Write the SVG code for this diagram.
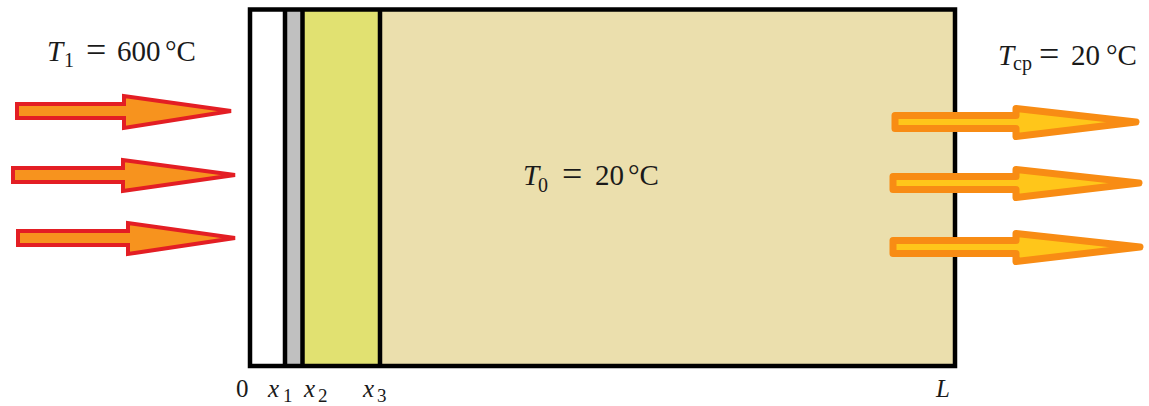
<svg xmlns="http://www.w3.org/2000/svg" width="1149" height="406" viewBox="0 0 1149 406">
<style>
.t{font-family:"Liberation Serif",serif;fill:#1a1a1a}
.it{font-style:italic}
.big{font-size:29px}
.eq{font-size:36px}
.sub{font-size:20px}
.bot{font-size:25px}
.bsub{font-size:19px}
.la{fill:#f7931e;stroke:#e31e24;stroke-width:4;stroke-linejoin:miter;stroke-miterlimit:3}
.ra{fill:#ffc61a;stroke:#f88c14;stroke-width:7;stroke-linejoin:round}
.line{stroke:#000;stroke-width:4.5;fill:none}
</style>
<rect width="1149" height="406" fill="#fff"/>
<g id="wall">
<rect x="250" y="9.5" width="35" height="356.5" fill="#ffffff"/>
<rect x="285" y="9.5" width="17.5" height="356.5" fill="#c0c0c0"/>
<rect x="302.5" y="9.5" width="77.5" height="356.5" fill="#e1e171"/>
<rect x="380" y="9.5" width="575" height="356.5" fill="#ebdfad"/>
<line class="line" x1="285" y1="9.5" x2="285" y2="366"/>
<line class="line" x1="302.5" y1="9.5" x2="302.5" y2="366"/>
<line class="line" x1="380" y1="9.5" x2="380" y2="366"/>
<rect class="line" x="250" y="9.5" width="705" height="356.5"/>
</g>
<g id="arrows-in">
<path class="la" d="M17,104 H124 V96 L231,111 L124,128 V118 H17 Z"/>
<path class="la" d="M13,168 H123 V160 L235,175 L123,191 V182 H13 Z"/>
<path class="la" d="M18,231 H128 V223 L235,238 L128,254 V245 H18 Z"/>
</g>
<g id="arrows-out">
<path class="ra" d="M895,115.5 H1016 V108.5 L1136,122 L1016,136.5 V128.5 H895 Z"/>
<path class="ra" d="M893,176.5 H1016 V169.5 L1139,183 L1016,197.5 V189.5 H893 Z"/>
<path class="ra" d="M893,240.5 H1016 V233.5 L1140,247 L1016,261.5 V253.5 H893 Z"/>
</g>
<g id="label-T1">
<text class="t it big" x="47" y="61">T</text>
<text class="t sub" x="64" y="67">1</text>
<text class="t eq" x="86" y="62">=</text>
<text class="t big" x="117" y="61">600</text>
<text class="t big" x="165" y="61">°C</text>
</g>
<g id="label-T0">
<text class="t it big" x="523" y="185">T</text>
<text class="t sub" x="538" y="192">0</text>
<text class="t eq" x="562" y="186">=</text>
<text class="t big" x="595" y="185">20</text>
<text class="t big" x="628" y="185">°C</text>
</g>
<g id="label-Tcp">
<text class="t it big" x="998" y="65">T</text>
<text class="t sub" x="1013" y="70">cp</text>
<text class="t eq" x="1039" y="66">=</text>
<text class="t big" x="1071" y="65">20</text>
<text class="t big" x="1106" y="65">°C</text>
</g>
<g id="axis-labels">
<text class="t bot" x="236" y="397">0</text>
<text class="t it bot" x="268" y="397">x</text>
<text class="t bsub" x="283" y="402">1</text>
<text class="t it bot" x="304" y="397">x</text>
<text class="t bsub" x="318" y="402">2</text>
<text class="t it bot" x="363" y="397">x</text>
<text class="t bsub" x="377" y="402">3</text>
<text class="t it bot" x="936" y="397">L</text>
</g>
</svg>
